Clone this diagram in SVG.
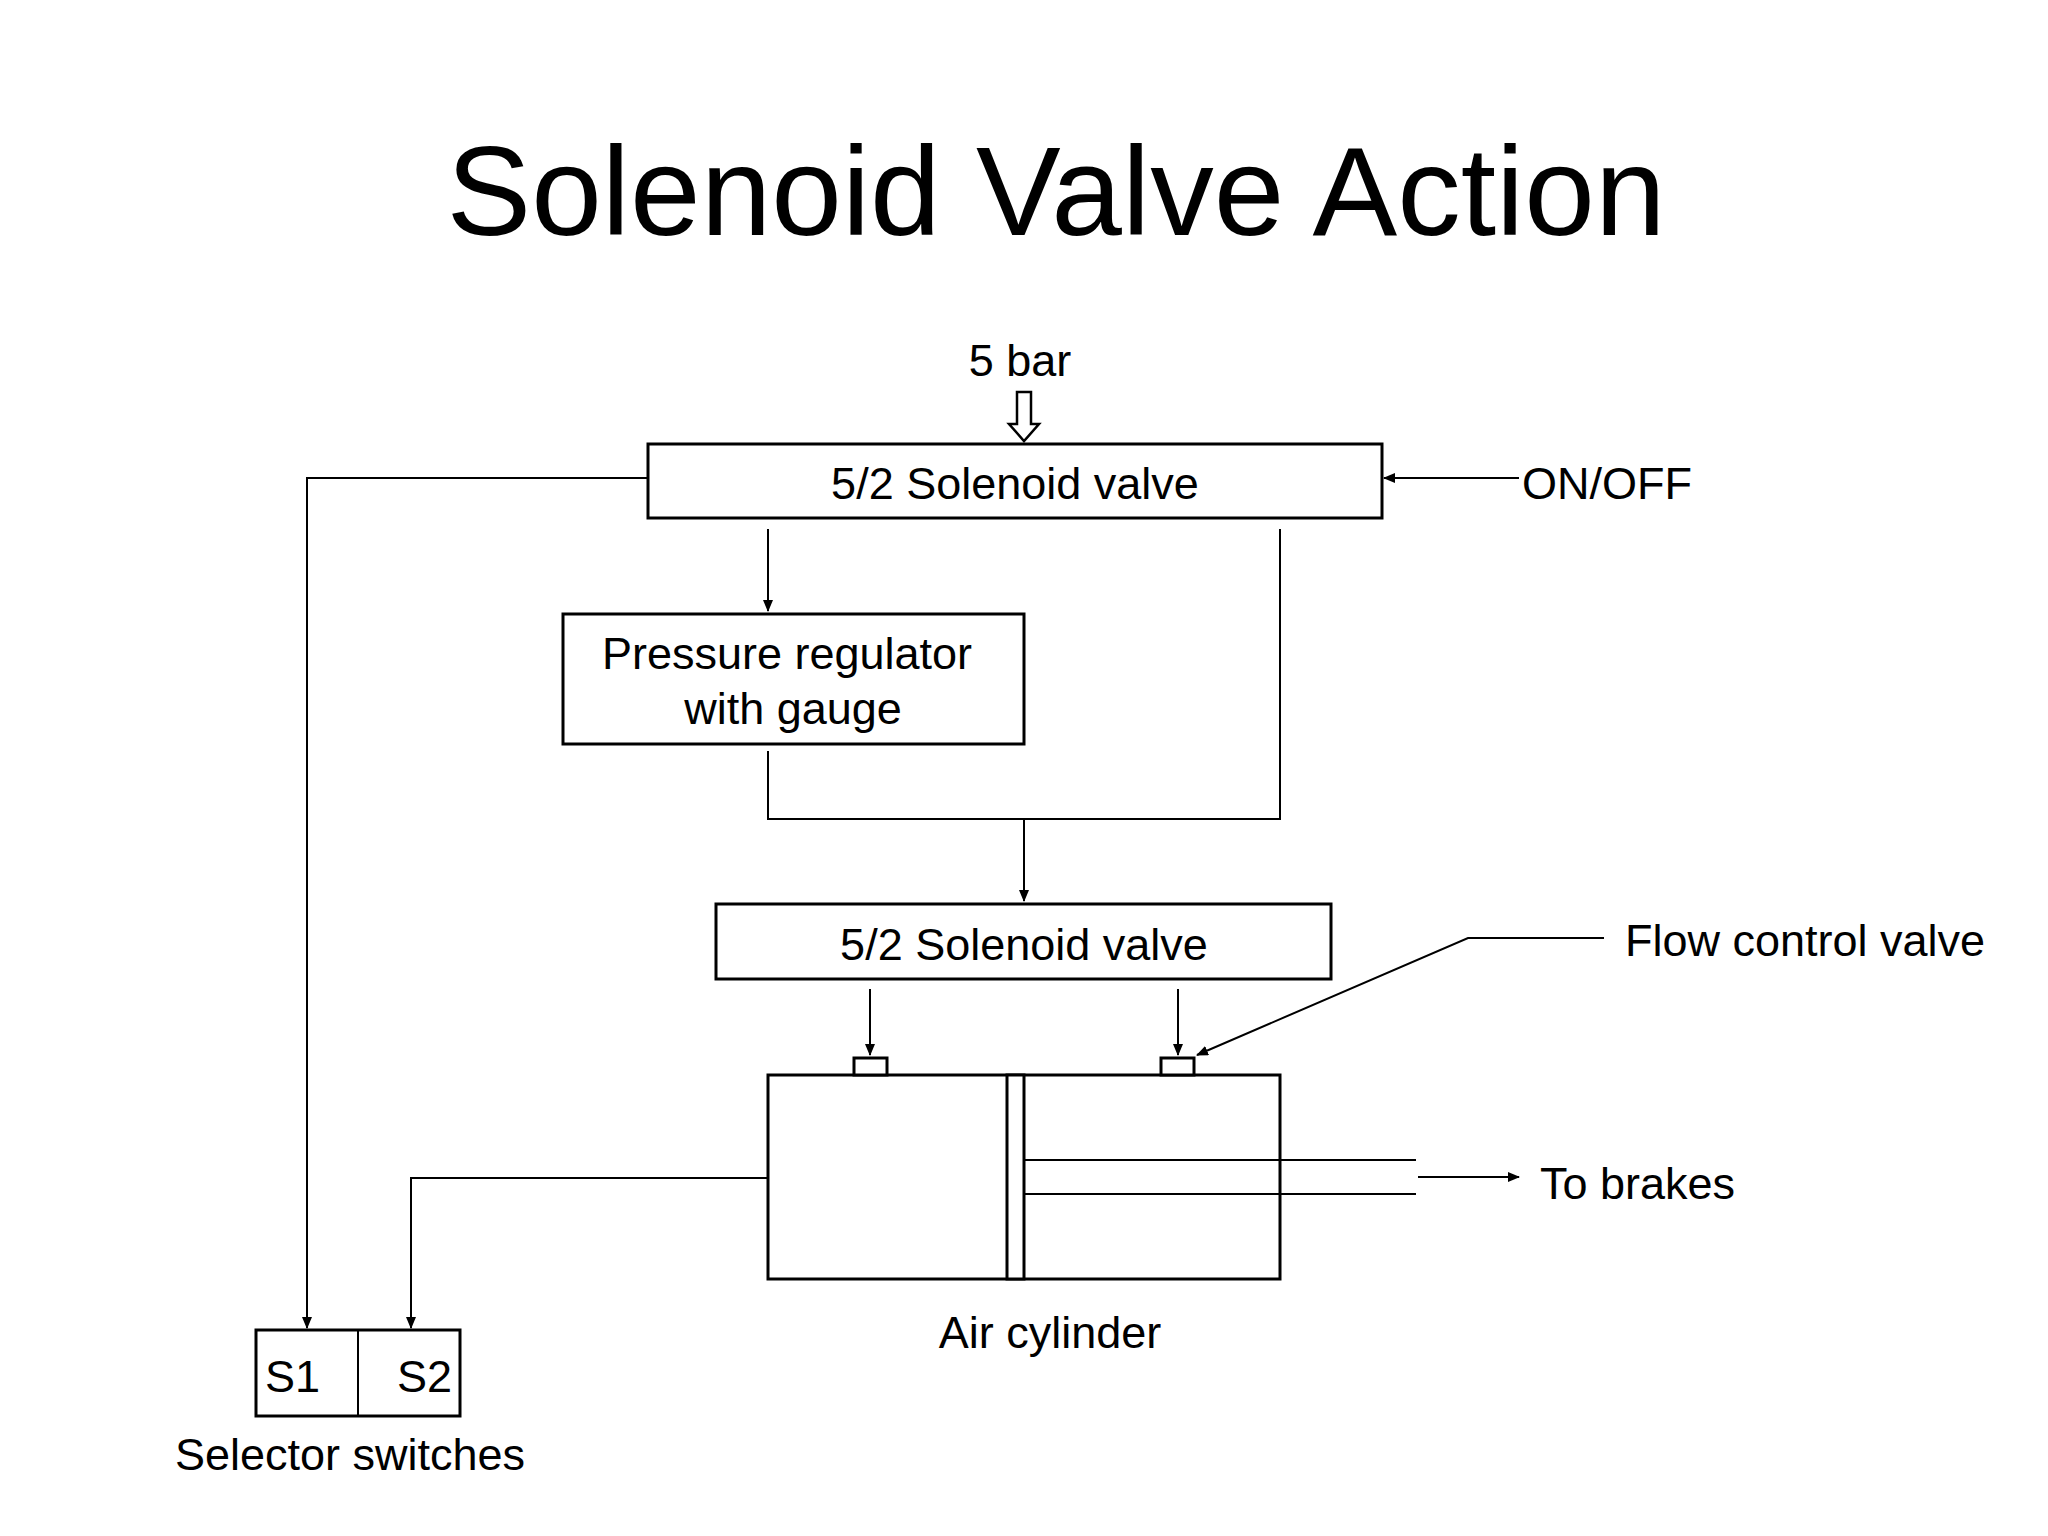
<svg xmlns="http://www.w3.org/2000/svg" width="2048" height="1536" viewBox="0 0 2048 1536">
<style>
text{font-family:"Liberation Sans",Arial,sans-serif;fill:#000;font-size:45px}
.c{text-anchor:middle}
.box{fill:#fff;stroke:#000;stroke-width:3}
.ln{fill:none;stroke:#000;stroke-width:2}
</style>
<defs><marker id="a" markerWidth="12" markerHeight="10" refX="11" refY="5" orient="auto" markerUnits="userSpaceOnUse"><path d="M0,0L12,5L0,10z" fill="#000"/></marker></defs>
<rect width="2048" height="1536" fill="#fff"/>
<text class="c" x="1056" y="235" style="font-size:127px">Solenoid Valve Action</text>
<g id="supply"><text class="c" x="1020" y="376">5 bar</text>
<path d="M1017,392h14v32h8l-15,17l-15,-17h8z" fill="#fff" stroke="#000" stroke-width="2.5"/></g>
<g id="valve1"><rect class="box" x="648" y="444" width="734" height="74"/><text class="c" x="1015" y="499">5/2 Solenoid valve</text></g>
<g id="onoff"><text x="1522" y="499">ON/OFF</text></g>
<g id="regulator"><rect class="box" x="563" y="614" width="461" height="130"/><text class="c" x="787" y="669">Pressure regulator</text><text class="c" x="793" y="724">with gauge</text></g>
<g id="valve2"><rect class="box" x="716" y="904" width="615" height="75"/><text class="c" x="1024" y="960">5/2 Solenoid valve</text></g>
<g id="cylinder"><rect class="box" x="768" y="1075" width="512" height="204"/>
<rect class="box" x="1007" y="1075" width="17" height="204"/>
<rect class="box" x="854" y="1058" width="33" height="17" stroke-width="2"/>
<rect class="box" x="1161" y="1058" width="33" height="17" stroke-width="2"/>
<path class="ln" d="M1024,1160H1416M1024,1194H1416"/>
<text class="c" x="1050" y="1348">Air cylinder</text></g>
<g id="flowlabel"><text x="1625" y="956">Flow control valve</text></g>
<g id="brakes"><text x="1540" y="1199">To brakes</text></g>
<g id="switches"><rect class="box" x="256" y="1330" width="204" height="86"/><path class="ln" d="M358,1330V1416"/>
<text x="265" y="1392">S1</text><text x="397" y="1392">S2</text>
<text class="c" x="350" y="1470">Selector switches</text></g>
<g id="connectors" class="ln">
<path class="ln" d="M1519,478H1384" marker-end="url(#a)" stroke-width="3.5"/>
<path class="ln" d="M648,478H307V1328" marker-end="url(#a)"/>
<path class="ln" d="M768,529V611" marker-end="url(#a)"/>
<path class="ln" d="M768,751V819H1280V529"/>
<path class="ln" d="M1024,819V901" marker-end="url(#a)"/>
<path class="ln" d="M870,989V1055" marker-end="url(#a)"/>
<path class="ln" d="M1178,989V1055" marker-end="url(#a)"/>
<path class="ln" d="M1604,938H1468L1197,1055" marker-end="url(#a)"/>
<path class="ln" d="M1418,1177H1519" marker-end="url(#a)"/>
<path class="ln" d="M768,1178H411V1328" marker-end="url(#a)"/>
</g>
</svg>
